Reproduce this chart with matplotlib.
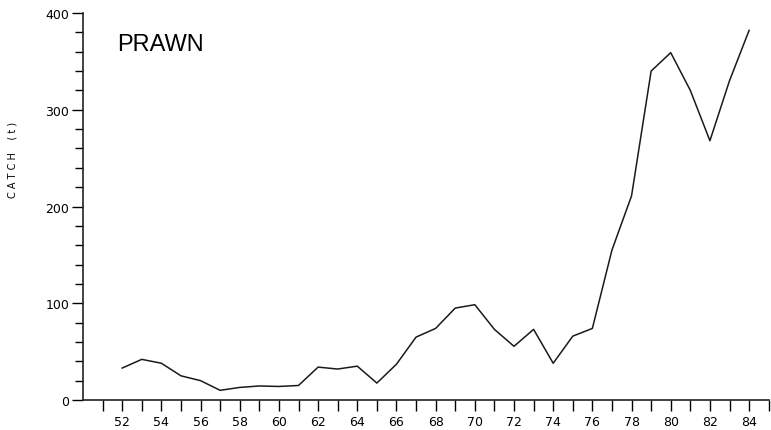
import numpy as np
import matplotlib
matplotlib.use("Agg")
import matplotlib.pyplot as plt

years = [52, 53, 54, 55, 56, 57, 58, 59, 60, 61, 62, 63, 64, 65, 66, 67, 68,
         69, 70, 71, 72, 73, 74, 75, 76, 77, 78, 79, 80, 81, 82, 83, 84]
catch = [33, 42, 38, 25, 20, 10, 13, 14.5, 14, 15, 34, 32, 35, 17.5, 37, 65, 74,
         95, 98.5, 73, 55.5, 73, 38, 66, 74, 155, 211, 340, 359, 320, 268, 330, 382]

fig = plt.figure(figsize=(7.71, 4.31), dpi=100)
ax = fig.add_axes([83/771, 1 - 401/431, 1 - 83/771 - 0.003, (401 - 14)/431])

ax.plot(years, catch, color="#1a1a1a", lw=1.1)

ax.set_xlim(50, 85)
ax.set_ylim(0, 400)

ax.set_xticks(np.arange(51, 86))
ax.set_xticklabels([str(y) if (y % 2 == 0 and 52 <= y <= 84) else "" for y in range(51, 86)])
ax.set_yticks([0, 100, 200, 300, 400])
ax.set_yticks(np.arange(0, 401, 20), minor=True)

ax.tick_params(axis="x", direction="out", length=8, width=1, labelsize=9, pad=3)
ax.tick_params(axis="y", which="major", direction="out", length=8, width=1, labelsize=9, pad=2)
ax.tick_params(axis="y", which="minor", direction="out", length=6, width=1)

for s in ["top", "right"]:
    ax.spines[s].set_visible(False)
for s in ["left", "bottom"]:
    ax.spines[s].set_linewidth(1.2)
    ax.spines[s].set_color("#222222")

fig.text(13/771, 1 - 160/431, "C A T C H    ( t )", rotation=90, fontsize=7,
         ha="center", va="center")
fig.text(117/771, 1 - 45/431, "PRAWN", fontsize=17, family="Liberation Sans",
         ha="left", va="center")

fig.savefig("out.png", dpi=100)
